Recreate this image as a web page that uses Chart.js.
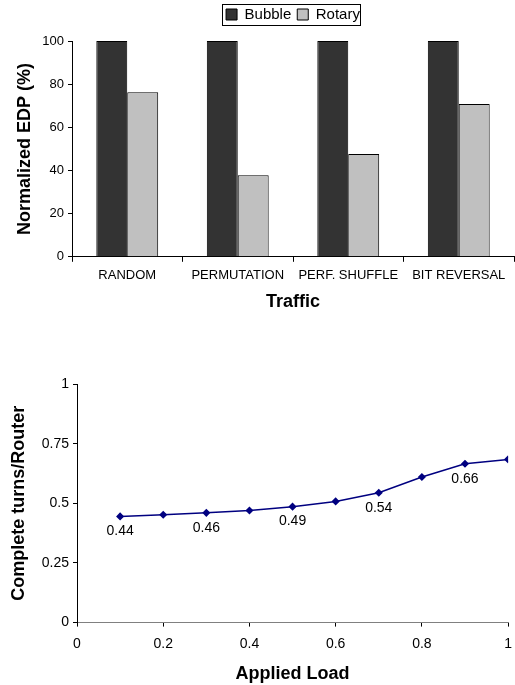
<!DOCTYPE html>
<html lang="en">
<head>
  <meta charset="UTF-8">
  <title>Bubble vs Rotary</title>
  <script src="https://cdn.jsdelivr.net/npm/chart.js"></script>
  <style>
    html, body { margin: 0; background: #fff; overflow: hidden; }
    .box { position: absolute; left: 0; }
  </style>
</head>
<body>

<div class="box" style="top:0px"><canvas id="edp" width="515" height="317"></canvas></div>
<div class="box" style="top:360px"><canvas id="turns" width="521" height="325"></canvas></div>

<script>
  // top chart: normalized EDP per traffic pattern
  const trafico = ['RANDOM', 'PERMUTATION', 'PERF. SHUFFLE', 'BIT REVERSAL'];
  const bubble = [100, 100, 100, 100];
  const rotary = [76.3, 37.8, 47.6, 70.8];

  // bottom chart: complete turns per router vs applied load
  const carga = [0.1, 0.2, 0.3, 0.4, 0.5, 0.6, 0.7, 0.8, 0.9, 1.0];
  const giros = [0.445, 0.452, 0.460, 0.470, 0.486, 0.508, 0.544, 0.610, 0.666, 0.684];
  const etiquetas = ['0.44', '', '0.46', '', '0.49', '', '0.54', '', '0.66', ''];

  const fuente = 'Arial, "Liberation Sans", sans-serif';
  Chart.defaults.font.family = fuente;
  Chart.defaults.color = '#000';

  const numero = v => String(+Number(v).toFixed(2));

  // legend with a frame, a bit more room under it
  const bordeLeyenda = {
    id: 'bordeLeyenda',
    beforeLayout(chart) {
      const lg = chart.legend;
      if (lg && !lg._ajustado) {
        const fit = lg.fit;
        lg.fit = function () { fit.call(this); this.height += 9; };
        lg._ajustado = true;
      }
    },
    afterDraw(chart) {
      const cajas = chart.legend.legendHitBoxes;
      if (!cajas || !cajas.length) return;
      let x1 = Infinity, y1 = Infinity, x2 = -Infinity, y2 = -Infinity;
      cajas.forEach(b => {
        x1 = Math.min(x1, b.left); y1 = Math.min(y1, b.top);
        x2 = Math.max(x2, b.left + b.width); y2 = Math.max(y2, b.top + b.height);
      });
      const ctx = chart.ctx;
      ctx.save();
      ctx.strokeStyle = '#000';
      ctx.lineWidth = 1;
      ctx.strokeRect(Math.round(x1 - 4) + 0.5, Math.round(y1 - 3) + 0.5, Math.round(x2 - x1 + 4), Math.round(y2 - y1 + 6));
      ctx.restore();
    }
  };

  new Chart(document.getElementById('edp'), {
    type: 'bar',
    data: {
      labels: trafico,
      datasets: [
        { label: 'Bubble', data: bubble, backgroundColor: '#333333', borderColor: '#000', borderWidth: 1 },
        { label: 'Rotary', data: rotary, backgroundColor: '#c0c0c0', borderColor: '#000', borderWidth: 1 }
      ]
    },
    options: {
      responsive: false,
      animation: false,
      categoryPercentage: 0.56,
      barPercentage: 1,
      layout: { padding: { top: 1, right: 1 } },
      plugins: {
        tooltip: { enabled: false },
        legend: {
          position: 'top',
          fullSize: false,
          labels: {
            font: { size: 15 },
            boxWidth: 11,
            boxHeight: 11,
            padding: 6
          }
        }
      },
      scales: {
        x: {
          grid: { display: true, drawOnChartArea: false, color: '#000', tickLength: 5, offset: true },
          border: { color: '#000' },
          ticks: { font: { size: 13 }, padding: 6, maxRotation: 0, autoSkip: false },
          title: { display: true, text: 'Traffic', font: { size: 18, weight: 'bold' }, padding: { top: 2, bottom: 4 } }
        },
        y: {
          min: 0, max: 100,
          afterFit: s => { s.width = 72; },
          grid: { display: true, drawOnChartArea: false, color: '#000', tickLength: 4 },
          border: { color: '#000' },
          ticks: { stepSize: 20, font: { size: 13 }, padding: 4 },
          title: { display: true, text: 'Normalized EDP (%)', font: { size: 18, weight: 'bold' }, padding: { top: 14 } }
        }
      }
    },
    plugins: [bordeLeyenda]
  });

  const etiquetasPuntos = {
    id: 'etiquetasPuntos',
    afterDatasetsDraw(chart) {
      const meta = chart.getDatasetMeta(0);
      const ctx = chart.ctx;
      ctx.save();
      ctx.font = '14px ' + fuente;
      ctx.fillStyle = '#000';
      ctx.textAlign = 'center';
      ctx.textBaseline = 'middle';
      meta.data.forEach((p, i) => {
        if (etiquetas[i]) ctx.fillText(etiquetas[i], p.x, p.y + 15);
      });
      ctx.restore();
    }
  };

  new Chart(document.getElementById('turns'), {
    type: 'line',
    data: {
      datasets: [{
        data: carga.map((x, i) => ({ x: x, y: giros[i] })),
        borderColor: '#000080',
        backgroundColor: '#000080',
        borderWidth: 1.5,
        pointStyle: 'rectRot',
        pointRadius: 3,
        tension: 0
      }]
    },
    options: {
      responsive: false,
      animation: false,
      layout: { padding: { top: 24, right: 0 } },
      plugins: { legend: { display: false }, tooltip: { enabled: false } },
      scales: {
        x: {
          type: 'linear', min: 0, max: 1,
          grid: { display: true, drawOnChartArea: false, color: '#000', tickLength: 4 },
          border: { color: '#808080' },
          ticks: { stepSize: 0.2, font: { size: 14 }, padding: 9, callback: numero },
          title: { display: true, text: 'Applied Load', font: { size: 18, weight: 'bold' }, padding: { top: 2, bottom: 0 } }
        },
        y: {
          min: 0, max: 1,
          afterFit: s => { s.width = 77; },
          grid: { display: true, drawOnChartArea: false, color: '#000', tickLength: 4 },
          border: { color: '#000' },
          ticks: { stepSize: 0.25, font: { size: 14 }, padding: 4, callback: numero },
          title: { display: true, text: 'Complete turns/Router', font: { size: 18, weight: 'bold' }, padding: { top: 8 } }
        }
      }
    },
    plugins: [etiquetasPuntos]
  });
</script>

</body>
</html>
